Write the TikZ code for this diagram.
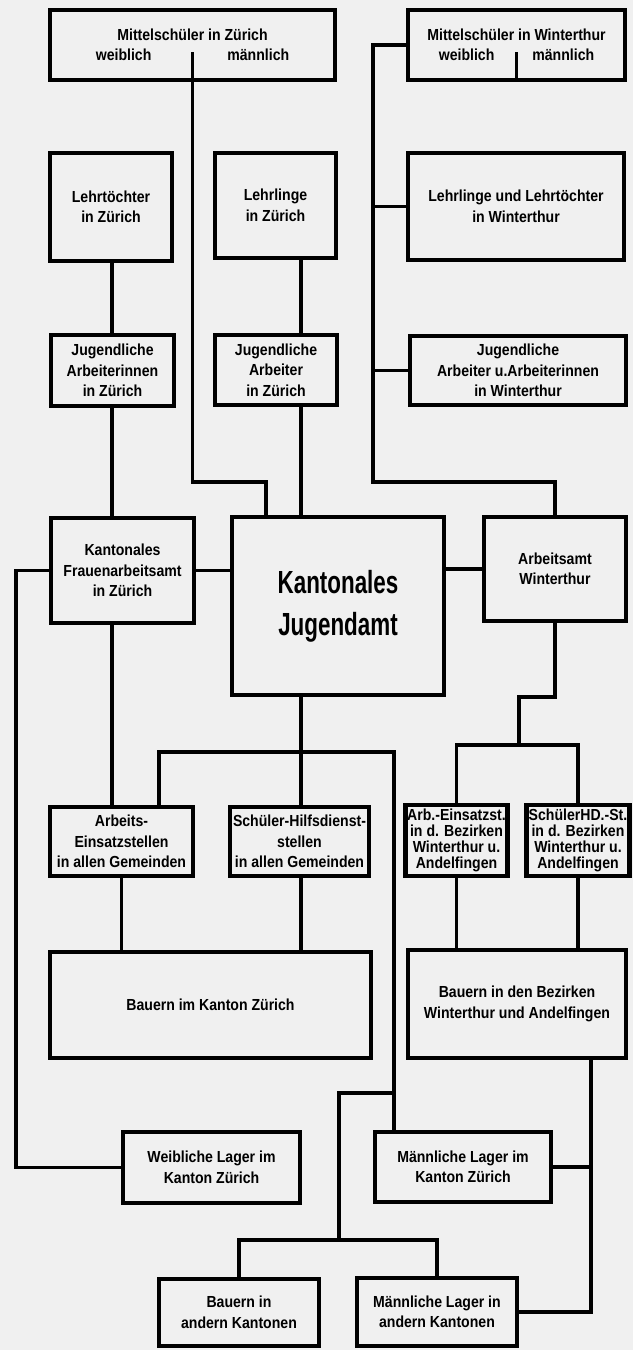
\documentclass[tikz,border=0pt]{standalone}
\usepackage{fontspec}
\usepackage{tikz}
\newfontfamily\boxfont{Liberation Sans}[FakeStretch=0.88]
\newfontfamily\bigfont{Liberation Sans}[FakeStretch=0.7]
\definecolor{paper}{gray}{0.94}

\begin{document}
\begin{tikzpicture}[box/.style={draw,line width=2.3pt,align=center,inner sep=1pt,
    font=\boxfont\bfseries\fontsize{8pt}{10.25pt}\selectfont},
  tightbox/.style={box,font=\boxfont\bfseries\fontsize{8pt}{7.9pt}\selectfont},
  bigbox/.style={box,font=\bigfont\bfseries\fontsize{16pt}{21pt}\selectfont},
  link/.style={line width=1.9pt}]
  \fill[paper] (0pt,0pt) rectangle (316.5pt,-675pt);
  \useasboundingbox (0pt,0pt) rectangle (316.5pt,-675pt);
  % upper row
  \draw (96.25pt, -22.5pt)node[box,minimum width=142.5pt,minimum height=35pt](mz){Mittelschüler in Zürich\\weiblich\hspace{38pt}männlich};
  \draw (258.25pt, -22.5pt)node[box,minimum width=108.5pt,minimum height=35pt](mw){Mittelschüler in Winterthur\\weiblich\hspace{19pt}männlich};
  \draw (55.5pt, -103.5pt)node[box,minimum width=61pt,minimum height=54pt](lt){Lehrtöchter\\in Zürich};
  \draw (137.75pt, -102.75pt)node[box,minimum width=60.5pt,minimum height=52.5pt](ll){Lehrlinge\\in Zürich};
  \draw (258pt, -103.25pt)node[box,minimum width=108pt,minimum height=53.5pt](lw){Lehrlinge und Lehrtöchter\\in Winterthur};
  \draw (56.25pt, -185.25pt)node[box,minimum width=61.5pt,minimum height=35.5pt](jaz){Jugendliche\\Arbeiterinnen\\in Zürich};
  \draw (138pt, -185pt)node[box,minimum width=61pt,minimum height=35pt](jrz){Jugendliche\\Arbeiter\\in Zürich};
  \draw (259pt, -185.25pt)node[box,minimum width=108pt,minimum height=34.5pt](jw){Jugendliche\\Arbeiter u.Arbeiterinnen\\in Winterthur};
  % middle row
  \draw (61.25pt, -285.25pt)node[box,minimum width=71.5pt,minimum height=52.5pt](fa){Kantonales\\Frauenarbeitsamt\\in Zürich};
  \draw (169pt, -303pt)node[bigbox,minimum width=106pt,minimum height=89pt](kj){Kantonales\\Jugendamt};
  \draw (277.5pt, -284.5pt)node[box,minimum width=71pt,minimum height=52pt](aw){Arbeitsamt\\Winterthur};
  % lower rows
  \draw (60.75pt, -420.75pt)node[box,minimum width=71.5pt,minimum height=34.5pt](ae){Arbeits-\\Einsatzstellen\\in allen Gemeinden};
  \draw (149.75pt, -420.75pt)node[box,minimum width=69.5pt,minimum height=34.5pt](sh){Schüler-Hilfsdienst-\\stellen\\in allen Gemeinden};
  \draw (228.25pt, -420.25pt)node[tightbox,minimum width=48.5pt,minimum height=35.5pt](aeb){Arb.-Einsatzst.\\in d. Bezirken\\Winterthur u.\\Andelfingen};
  \draw (289pt, -420.25pt)node[tightbox,minimum width=49pt,minimum height=35.5pt](shb){SchülerHD.-St.\\in d. Bezirken\\Winterthur u.\\Andelfingen};
  \draw (105.25pt, -502.5pt)node[box,minimum width=160.5pt,minimum height=53pt](bz){Bauern im Kanton Zürich};
  \draw (258.5pt, -502pt)node[box,minimum width=109pt,minimum height=54pt](bb){Bauern in den Bezirken\\Winterthur und Andelfingen};
  \draw (105.75pt, -583.75pt)node[box,minimum width=88.5pt,minimum height=35.5pt](wl){Weibliche Lager im\\Kanton Zürich};
  \draw (231.5pt, -583.5pt)node[box,minimum width=88pt,minimum height=35pt](ml){Männliche Lager im\\Kanton Zürich};
  \draw (119.5pt, -656.25pt)node[box,minimum width=80pt,minimum height=33.5pt](ba){Bauern in\\andern Kantonen};
  \draw (218.5pt, -656pt)node[box,minimum width=80pt,minimum height=34pt](mla){Männliche Lager in\\andern Kantonen};
  % bends
  \coordinate (colA) at (56pt, 0pt);
  \coordinate (colB) at (150.5pt, 0pt);
  \coordinate (lcol) at (8pt, 0pt);
  \coordinate (rcol) at (295.5pt, 0pt);
  \coordinate (mzbend) at (133pt, -241pt);
  \coordinate (wbend) at (186.5pt, -241pt);
  \coordinate (barL) at (79.5pt, -376pt);
  \coordinate (barR) at (197pt, -376pt);
  \coordinate (mlfork) at (197pt, -546.5pt);
  \coordinate (lagbar) at (169.5pt, -620pt);
  \coordinate (awjog) at (259.5pt, -348.5pt);
  \coordinate (awbar) at (259.5pt, -372.5pt);
  % connectors
  \draw[link] ([yshift=15pt]mz.south) |- (mzbend) -- (mzbend |- kj.north);
  \draw[link] ([yshift=15pt]mw.south) -- (mw.south);
  \draw[link] (mw.west) -| (wbend) -| (aw.north);
  \draw[link] (lw.west) -- (lw.west -| wbend);
  \draw[link] (jw.west) -- (jw.west -| wbend);
  \draw[link] (colA |- lt.south) -- (colA |- jaz.north);
  \draw[link] (colA |- jaz.south) -- (colA |- fa.north);
  \draw[link] (colA |- fa.south) -- (colA |- ae.north);
  \draw[link] (colB |- ll.south) -- (colB |- jrz.north);
  \draw[link] (colB |- jrz.south) -- (colB |- kj.north);
  \draw[link] (fa.east) -- (fa.east -| kj.west);
  \draw[link] (kj.east |- aw.west) -- (aw.west);
  \draw[link] (fa.west) -| (lcol |- wl.west) -- (wl.west);
  \draw[link] (colB |- kj.south) -- (colB |- sh.north);
  \draw[link] (barL |- ae.north) -- (barL) -- (barR) -- (barR |- ml.north);
  \draw[link] (mlfork) -| (lagbar);
  \draw[link] (ba.north) -- (ba.north |- lagbar) -- (mla.north |- lagbar) -- (mla.north);
  \draw[link] (ae.south) -- (ae.south |- bz.north);
  \draw[link] (colB |- sh.south) -- (colB |- bz.north);
  \draw[link] (aw.south) |- (awjog) -- (awbar);
  \draw[link] (aeb.north) |- (awbar) -| (shb.north);
  \draw[link] (aeb.south) -- (aeb.south |- bb.north);
  \draw[link] (shb.south) -- (shb.south |- bb.north);
  \draw[link] (rcol |- bb.south) |- (mla.east);
  \draw[link] (ml.east) -- (ml.east -| rcol);
\end{tikzpicture}
\end{document}
